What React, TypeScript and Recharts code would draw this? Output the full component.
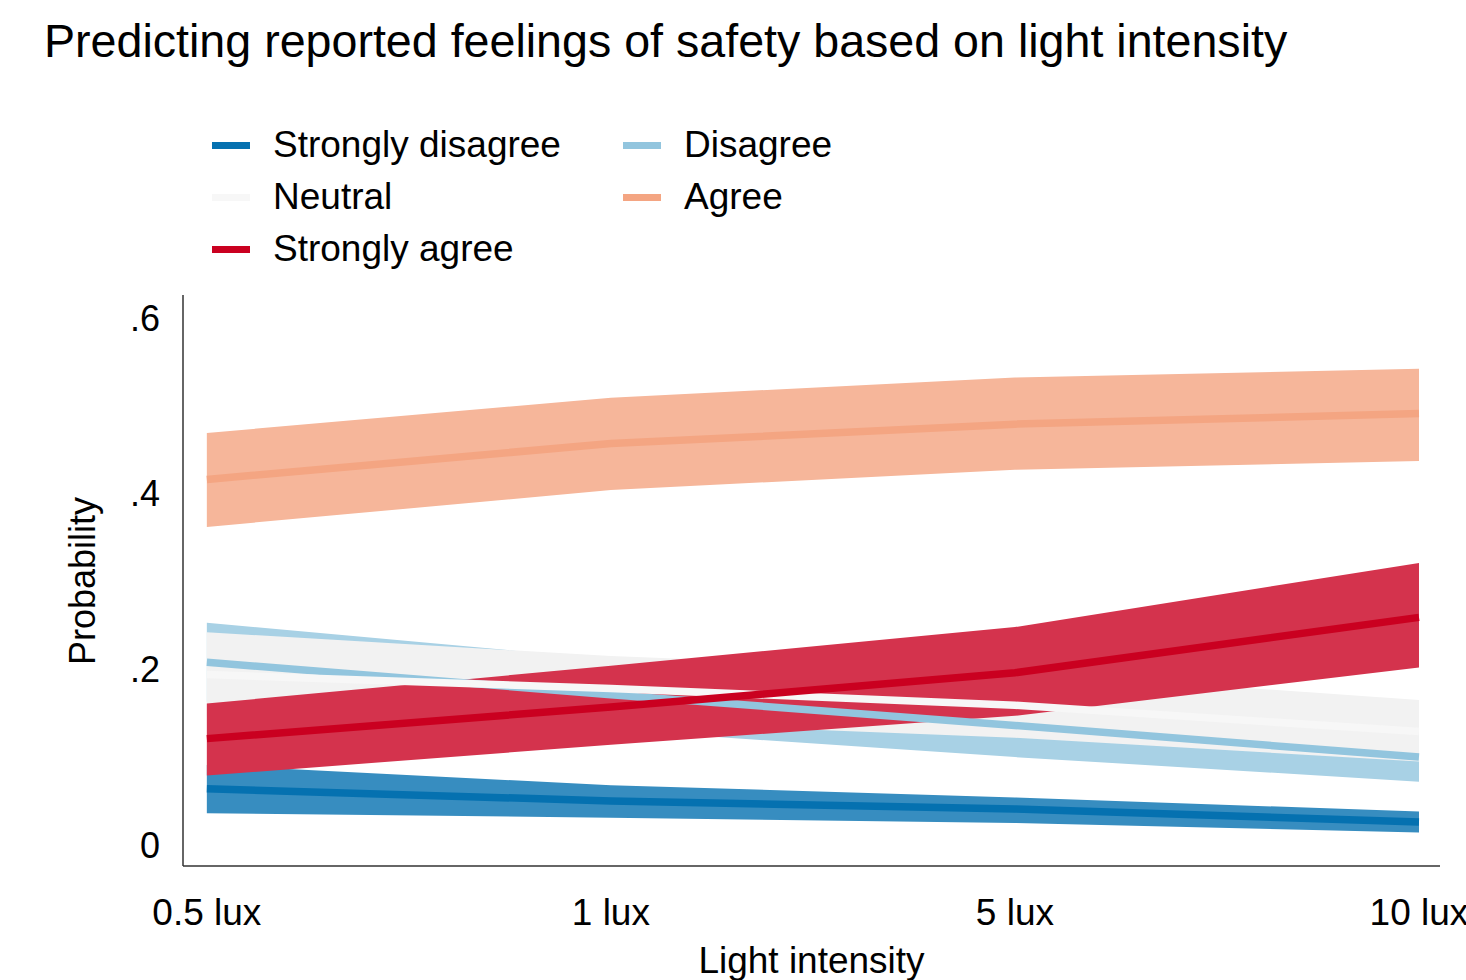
import {
  ComposedChart,
  Area,
  Line,
  XAxis,
  YAxis,
  Label,
} from "recharts";

const xLabels = ["0.5 lux", "1 lux", "5 lux", "10 lux"];

// predicted probabilities and 95% CI per response level
const sdMean = [0.064, 0.05, 0.041, 0.026];
const sdLow = [0.036, 0.031, 0.025, 0.014];
const sdHigh = [0.091, 0.068, 0.054, 0.038];

const dMean = [0.208, 0.171, 0.136, 0.1];
const dLow = [0.163, 0.131, 0.1, 0.072];
const dHigh = [0.253, 0.211, 0.169, 0.129];

const nMean = [0.194, 0.178, 0.159, 0.129];
const nLow = [0.146, 0.14, 0.122, 0.095];
const nHigh = [0.242, 0.215, 0.197, 0.165];

const aMean = [0.416, 0.457, 0.479, 0.491];
const aLow = [0.362, 0.404, 0.427, 0.437];
const aHigh = [0.469, 0.509, 0.532, 0.542];

const saMean = [0.121, 0.157, 0.196, 0.259];
const saLow = [0.079, 0.114, 0.147, 0.202];
const saHigh = [0.161, 0.204, 0.248, 0.321];

const yTicks = [0, 0.2, 0.4, 0.6];

// band fills are the line colours at 80% intensity, drawn opaque
const series = [
  { key: "sd", name: "Strongly disagree", color: "#0571b0", fill: "#378dc0", mean: sdMean, low: sdLow, high: sdHigh },
  { key: "d", name: "Disagree", color: "#92c5de", fill: "#a8d1e5", mean: dMean, low: dLow, high: dHigh },
  { key: "n", name: "Neutral", color: "#f7f7f7", fill: "#f2f2f2", mean: nMean, low: nLow, high: nHigh },
  { key: "a", name: "Agree", color: "#f4a582", fill: "#f6b69a", mean: aMean, low: aLow, high: aHigh },
  { key: "sa", name: "Strongly agree", color: "#ca0020", fill: "#d4334d", mean: saMean, low: saLow, high: saHigh },
];

const data = xLabels.map((label, i) => {
  const row: Record<string, unknown> = { x: i, label };
  series.forEach((s) => {
    row[s.key] = s.mean[i];
    row[s.key + "Band"] = [s.low[i], s.high[i]];
  });
  return row;
});

const FONT = '"Liberation Sans", Arial, Helvetica, sans-serif';

// legend is laid out in two columns, row by row
const legendOrder = [
  [series[0], series[1]],
  [series[2], series[3]],
  [series[4]],
];

function LegendBlock() {
  return (
    <div
      style={{
        position: "absolute",
        left: 212,
        top: 119,
        fontFamily: FONT,
        fontSize: 37,
        color: "#000",
      }}
    >
      {legendOrder.map((row, r) => (
        <div key={r} style={{ display: "flex", height: 52, alignItems: "center" }}>
          {row.map((s) => (
            <div
              key={s.key}
              style={{ display: "flex", alignItems: "center", width: 411 }}
            >
              <span
                style={{
                  display: "inline-block",
                  width: 38,
                  height: 7,
                  background: s.color,
                  marginRight: 23,
                }}
              />
              <span>{s.name}</span>
            </div>
          ))}
        </div>
      ))}
    </div>
  );
}

export default function App() {
  return (
    <div
      style={{
        position: "absolute",
        left: 0,
        top: 0,
        width: 1466,
        height: 980,
        background: "#fff",
        overflow: "hidden",
      }}
    >
      <div
        style={{
          position: "absolute",
          left: 44,
          top: 14,
          fontFamily: FONT,
          fontSize: 46.6,
          color: "#000",
          whiteSpace: "nowrap",
        }}
      >
        Predicting reported feelings of safety based on light intensity
      </div>
      <LegendBlock />
      <ComposedChart
        width={1466}
        height={980}
        data={data}
        margin={{ top: 295, right: 26, bottom: 0, left: 103 }}
        style={{ fontFamily: FONT }}
      >
        <XAxis
          type="number"
          dataKey="x"
          domain={[-0.059, 3.052]}
          ticks={[0, 1, 2, 3]}
          tickFormatter={(v: number) => xLabels[v] ?? ""}
          axisLine={{ stroke: "#333", strokeWidth: 1.5 }}
          tickLine={false}
          tickSize={0}
          tickMargin={33}
          height={114}
          tick={{ fontSize: 37, fill: "#000" }}
          interval={0}
        >
          <Label
            value="Light intensity"
            position="insideBottom"
            offset={7}
            style={{ fontSize: 37, fill: "#000" }}
          />
        </XAxis>
        <YAxis
          type="number"
          domain={[-0.024, 0.626]}
          ticks={yTicks}
          tickFormatter={(v: number) => (v === 0 ? "0" : String(v).replace(/^0/, ""))}
          axisLine={{ stroke: "#333", strokeWidth: 1.5 }}
          tickLine={false}
          tickSize={0}
          tickMargin={23}
          width={80}
          tick={{ fontSize: 36, fill: "#000" }}
          allowDataOverflow
        >
          <Label
            content={() => (
              <text
                x={82}
                y={581}
                transform="rotate(-90 82 581)"
                textAnchor="middle"
                dominantBaseline="central"
                style={{ fontSize: 36, fill: "#000", fontFamily: FONT }}
              >
                Probability
              </text>
            )}
          />
        </YAxis>
        {series.map((s) => (
          <Area
            key={s.key + "Band"}
            type="linear"
            dataKey={s.key + "Band"}
            fill={s.fill}
            fillOpacity={1}
            stroke="none"
            isAnimationActive={false}
            dot={false}
            activeDot={false}
          />
        ))}
        {series.map((s) => (
          <Line
            key={s.key}
            type="linear"
            dataKey={s.key}
            stroke={s.color}
            strokeWidth={7.5}
            dot={false}
            activeDot={false}
            isAnimationActive={false}
          />
        ))}
      </ComposedChart>
    </div>
  );
}
